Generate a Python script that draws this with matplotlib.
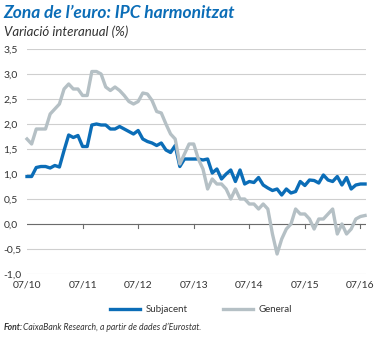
import matplotlib
matplotlib.use("Agg")
import matplotlib.pyplot as plt

plt.rcParams["font.family"] = ["Lato", "DejaVu Sans"]

# monthly data, Jul 2010 .. Aug 2016 (index 0 = 07/10)
subjacent = [
    0.95, 0.95, 1.13, 1.15, 1.15, 1.12, 1.17, 1.14, 1.47, 1.78, 1.73, 1.77,
    1.55, 1.55, 1.98, 2.00, 1.98, 1.98, 1.90, 1.90, 1.95, 1.90, 1.85, 1.80,
    1.87, 1.70, 1.65, 1.62, 1.57, 1.62, 1.48, 1.43, 1.57, 1.15, 1.30, 1.30,
    1.30, 1.30, 1.28, 1.30, 1.02, 1.10, 0.90, 1.00, 1.08, 0.85, 1.08, 0.80,
    0.85, 0.83, 0.93, 0.78, 0.72, 0.67, 0.70, 0.58, 0.70, 0.62, 0.65, 0.85,
    0.77, 0.88, 0.87, 0.82, 0.98, 0.88, 0.85, 0.95, 0.78, 0.93, 0.70, 0.78,
    0.80, 0.80,
]
general = [
    1.70, 1.60, 1.90, 1.90, 1.90, 2.20, 2.30, 2.40, 2.70, 2.80, 2.70, 2.70,
    2.57, 2.57, 3.05, 3.05, 3.00, 2.74, 2.67, 2.74, 2.67, 2.57, 2.45, 2.40,
    2.45, 2.62, 2.60, 2.47, 2.25, 2.22, 2.00, 1.80, 1.70, 1.20, 1.40, 1.60,
    1.60, 1.30, 1.10, 0.70, 0.90, 0.80, 0.80, 0.70, 0.50, 0.70, 0.50, 0.50,
    0.40, 0.40, 0.30, 0.40, 0.30, -0.20, -0.60, -0.30, -0.10, 0.00, 0.30, 0.20,
    0.20, 0.10, -0.10, 0.10, 0.10, 0.20, 0.30, -0.20, 0.00, -0.20, -0.10, 0.10,
    0.15, 0.17,
]
x_ticks = [0, 12, 24, 36, 48, 60, 72]
x_labels = ["07/10", "07/11", "07/12", "07/13", "07/14", "07/15", "07/16"]
y_ticks = [-1.0, -0.5, 0.0, 0.5, 1.0, 1.5, 2.0, 2.5, 3.0, 3.5]
y_labels = ["-1,0", "-0,5", "0,0", "0,5", "1,0", "1,5", "2,0", "2,5", "3,0", "3,5"]

BLUE = "#0b6db7"
GREY = "#b5c0c5"
TEXT = "#333333"

W, H = 379, 338
fig = plt.figure(figsize=(W / 100, H / 100), dpi=100)
ax = fig.add_axes([27 / W, 1 - 274 / H, 339 / W, 225 / H])

months = list(range(len(subjacent)))
ax.plot(months, subjacent, color=BLUE, lw=2.4, label="Subjacent",
        solid_joinstyle="round", clip_on=False, zorder=3)
ax.plot(months, general, color=GREY, lw=2.4, label="General",
        solid_joinstyle="round", clip_on=False, zorder=4)

ax.set_xlim(0, 73.2)
ax.set_ylim(-1.0, 3.5)
for s in ax.spines.values():
    s.set_visible(False)

ax.set_yticks(y_ticks)
ax.set_yticklabels(y_labels)
ax.yaxis.grid(True, color="#cfcfcf", lw=0.8)
ax.axhline(0, color="#6b6b6b", lw=0.8, zorder=2)
ax.tick_params(axis="y", length=0, pad=17, labelsize=7.5, labelcolor=TEXT)
for lab in ax.get_yticklabels():
    lab.set_horizontalalignment("left")

ax.set_xticks(x_ticks)
ax.set_xticklabels(x_labels)
ax.tick_params(axis="x", length=0, pad=5, labelsize=7.5, labelcolor=TEXT)

# small year ticks hanging from the zero line
for t in x_ticks[1:]:
    ax.plot([t, t], [0, -0.07], color="#6b6b6b", lw=0.8, zorder=2)

fig.text(3 / W, 1 - 13 / H, "Zona de l\u2019euro: IPC harmonitzat", color=BLUE,
         fontsize=12.5, fontweight="bold", fontstyle="italic", va="center")
fig.text(4 / W, 1 - 32 / H, "Variació interanual (%)", color=TEXT,
         fontsize=9.5, fontstyle="italic", va="center")

fig.legend(loc="center", bbox_to_anchor=(201 / W, 1 - 310 / H), ncol=2,
           frameon=False, fontsize=7, handlelength=3.1, handletextpad=0.6,
           columnspacing=3.6, labelcolor=TEXT)

src1 = fig.text(4 / W, 1 - 327 / H, "Font:", color=TEXT, fontsize=6.2,
                fontweight="bold", fontstyle="italic", va="center")
fig.canvas.draw()
bb = src1.get_window_extent()
fig.text(bb.x1 / W, 1 - 327 / H,
         "CaixaBank Research, a partir de dades d\u2019Eurostat.", color=TEXT,
         fontsize=6.2, fontstyle="italic", va="center")

fig.savefig("out.png", dpi=100)
